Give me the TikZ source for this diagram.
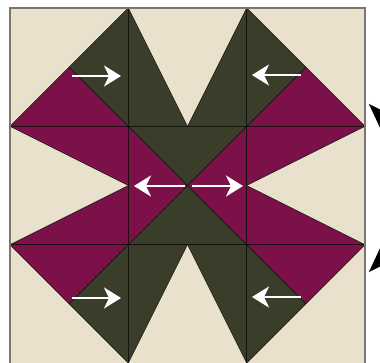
\documentclass[tikz,border=0pt]{standalone}
\usetikzlibrary{arrows.meta}
\definecolor{cream}{RGB}{233,225,204}
\definecolor{darkg}{RGB}{58,61,42}
\definecolor{plum}{RGB}{124,16,72}
\definecolor{frame}{RGB}{125,115,112}
\begin{document}
\begin{tikzpicture}[x=1pt,y=-1pt,
  patch/.style={draw=black!70!darkg,line width=0.5pt,line join=round},
  dk/.style={patch,fill=darkg},
  pl/.style={patch,fill=plum},
  seam/.style={draw=black,opacity=0.35,line width=0.8pt},
  warrow/.style={draw=white,line width=2.6pt,-{Stealth[length=17pt,width=21pt,inset=5pt]}},
  barrow/.style={draw=black,line width=2.6pt,-{Stealth[length=26pt,width=24pt,inset=6pt]}}]
\useasboundingbox (0,0) rectangle (380,363);
\fill[white] (0,0) rectangle (380,363);
% block background
\fill[cream] (10,8) rectangle (365,363);
\begin{scope}[shift={(10,363)},x=118.33pt,y=118.33pt]
  % top-left cell
  \path[pl] (0,2) -- (0.5,2.5) -- (1,2) -- cycle;
  \path[dk] (1,3) -- (0.5,2.5) -- (1,2) -- cycle;
  % top-middle
  \path[dk] (1,3) -- (1.5,2) -- (1,2) -- cycle;
  \path[dk] (2,3) -- (1.5,2) -- (2,2) -- cycle;
  % top-right
  \path[pl] (3,2) -- (2.5,2.5) -- (2,2) -- cycle;
  \path[dk] (2,3) -- (2.5,2.5) -- (2,2) -- cycle;
  % middle row left
  \path[pl] (0,2) -- (1,2) -- (1,1.5) -- cycle;
  \path[pl] (0,1) -- (1,1) -- (1,1.5) -- cycle;
  % center
  \path[dk] (1,2) -- (2,2) -- (1.5,1.5) -- cycle;
  \path[dk] (1,1) -- (2,1) -- (1.5,1.5) -- cycle;
  \path[pl] (1,2) -- (1,1) -- (1.5,1.5) -- cycle;
  \path[pl] (2,2) -- (2,1) -- (1.5,1.5) -- cycle;
  % middle row right
  \path[pl] (3,2) -- (2,2) -- (2,1.5) -- cycle;
  \path[pl] (3,1) -- (2,1) -- (2,1.5) -- cycle;
  % bottom-left
  \path[pl] (0,1) -- (0.5,0.5) -- (1,1) -- cycle;
  \path[dk] (1,0) -- (0.5,0.5) -- (1,1) -- cycle;
  % bottom-middle
  \path[dk] (1,0) -- (1.5,1) -- (1,1) -- cycle;
  \path[dk] (2,0) -- (1.5,1) -- (2,1) -- cycle;
  % bottom-right
  \path[pl] (3,1) -- (2.5,0.5) -- (2,1) -- cycle;
  \path[dk] (2,0) -- (2.5,0.5) -- (2,1) -- cycle;
  % seams
  \path[seam] (1,0) -- (1,3) (2,0) -- (2,3) (0,1) -- (3,1) (0,2) -- (3,2);
\end{scope}
% frame (three visible sides)
\draw[frame,line width=1.8pt] (10,363) -- (10,8) -- (365,8) -- (365,363);
% white pressing arrows
\coordinate (a1s) at (72,76);  \coordinate (a1e) at (121,76);
\coordinate (a2s) at (301,75); \coordinate (a2e) at (252,75);
\coordinate (a3s) at (185,186); \coordinate (a3e) at (134,186);
\coordinate (a4s) at (192,186); \coordinate (a4e) at (243,186);
\coordinate (a5s) at (72,298); \coordinate (a5e) at (121,298);
\coordinate (a6s) at (301,297); \coordinate (a6e) at (252,297);
\draw[warrow] (a1s) -- (a1e);
\draw[warrow] (a2s) -- (a2e);
\draw[warrow] (a3s) -- (a3e);
\draw[warrow] (a4s) -- (a4e);
\draw[warrow] (a5s) -- (a5e);
\draw[warrow] (a6s) -- (a6e);
% black arrows at the right edge
\coordinate (b1s) at (381,50); \coordinate (b1e) at (381,130);
\coordinate (b2s) at (381,320); \coordinate (b2e) at (381,246);
\draw[barrow] (b1s) -- (b1e);
\draw[barrow] (b2s) -- (b2e);
\end{tikzpicture}
\end{document}
